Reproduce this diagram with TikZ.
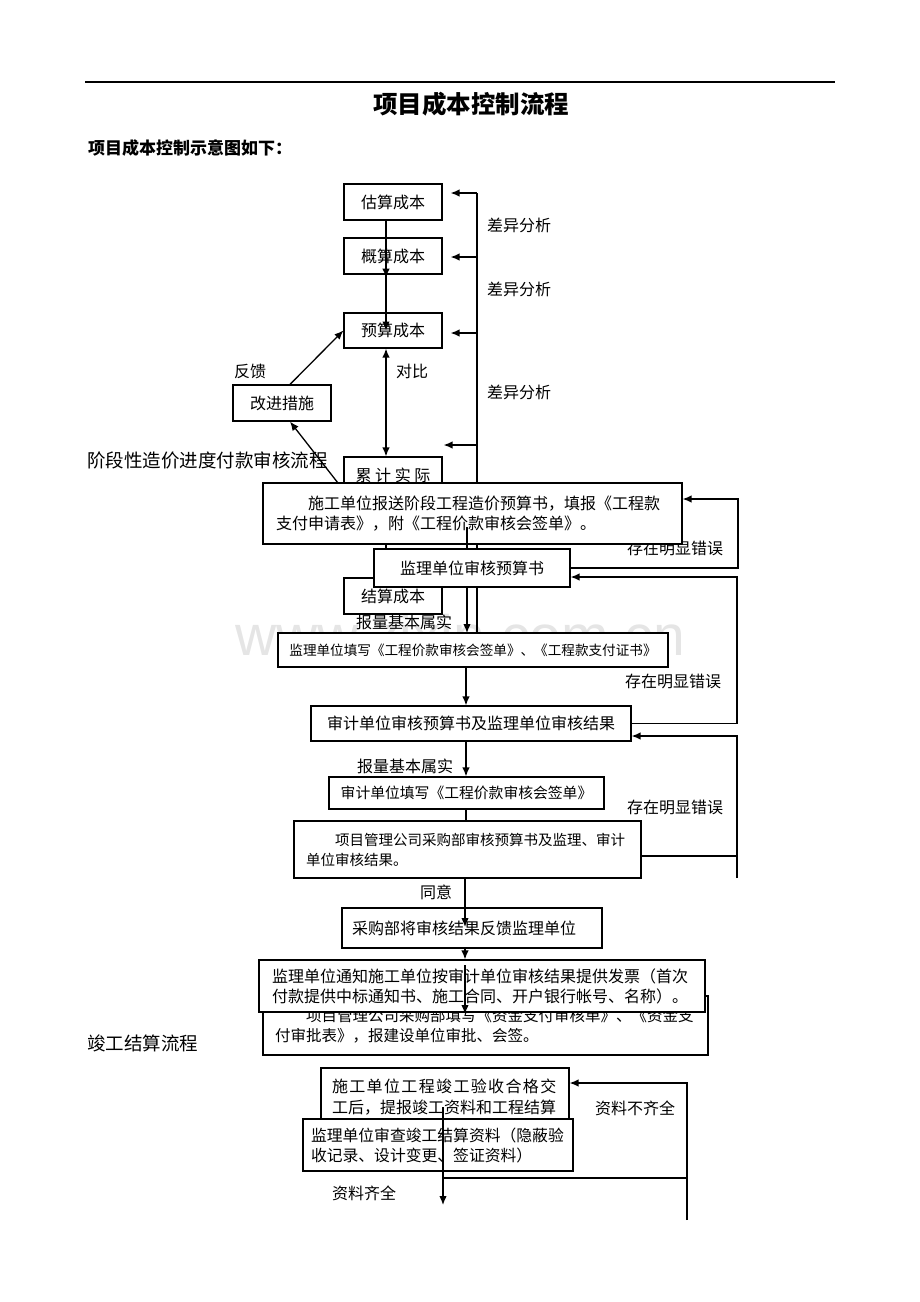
\documentclass[tikz,border=0pt]{standalone}
\usepackage{fontspec}
\setmainfont{Noto Sans CJK SC}
\newfontfamily\wmfont{Liberation Sans}
\usetikzlibrary{arrows.meta}

\begin{document}
\begin{tikzpicture}[x=1pt,y=-1pt,
	box/.style={draw, fill=white, line width=1.2pt, inner sep=0pt, font=\fontsize{16}{20}\selectfont},
	lbl/.style={inner sep=0pt, font=\fontsize{16}{20}\selectfont},
	ln/.style={line width=1.3pt},
	arr/.style={line width=1.3pt, -{Latex[length=9pt,width=7.5pt]}}]
	\useasboundingbox (0,0) rectangle (920,1302);

	\node[inner sep=0pt, text=black!10, font=\wmfont\fontsize{57}{60}\selectfont] (wm) at (460,635) {www.zixin.com.cn};

	\coordinate (hl) at (85,82);
	\coordinate (hr) at (835,82);
	\draw[line width=1.2pt] (hl) -- (hr);
	\node[inner sep=0pt, font=\fontsize{24.5}{28}\selectfont\bfseries] (title) at (471,104) {项目成本控制流程};
	\node[inner sep=0pt, anchor=west, font=\fontsize{17}{20}\selectfont\bfseries] (sub) at (88,148) {项目成本控制示意图如下：};
	\node[inner sep=0pt, anchor=west, font=\fontsize{18.5}{22}\selectfont] (part1) at (87,460) {阶段性造价进度付款审核流程};
	\node[inner sep=0pt, anchor=west, font=\fontsize{18.5}{22}\selectfont] (part2) at (87,1043) {竣工结算流程};

	% cost chain
	\node[box, minimum width=98pt, minimum height=36pt] (gusuan) at (393,202) {估算成本};
	\node[box, minimum width=98pt, minimum height=36pt] (gaisuan) at (393,256) {概算成本};
	\node[box, minimum width=98pt, minimum height=35pt] (yusuan) at (393,330.5) {预算成本};
	\node[box, minimum width=98pt, minimum height=36pt] (gaijin) at (282,403) {改进措施};
	\node[box, minimum width=98pt, minimum height=36pt] (leiji) at (393,475) {累 计 实 际};

	\coordinate (mx) at (386,0);
	\draw[arr, shorten >=-3pt] (mx |- gusuan.south) -- (mx |- gaisuan.south);
	\draw[arr] (mx |- gaisuan.south) -- (mx |- yusuan.center);
	\draw[ln, {Latex[length=9pt,width=7.5pt]}-{Latex[length=9pt,width=7.5pt]}] (mx |- yusuan.south) -- (mx |- leiji.north);
	\node[lbl] (duibi) at (412,371) {对比};
	\node[lbl] (fankui) at (250,371) {反馈};
	\draw[arr] ([xshift=8pt]gaijin.north) -- (yusuan.west);
	\coordinate (fb) at (338,483);
	\draw[arr] (fb) -- ([xshift=8pt]gaijin.south);

	\coordinate (b1) at (477,193);
	\coordinate (b2) at (477,257);
	\coordinate (b3) at (477,333);
	\coordinate (b4) at (477,445);
	\coordinate (bend) at (477,633);
	\draw[ln] (b1) -- (bend);
	\draw[arr, shorten >=8pt] (b1) -- (b1 -| gusuan.east);
	\draw[arr, shorten >=8pt] (b2) -- (b2 -| gaisuan.east);
	\draw[arr, shorten >=8pt] (b3) -- (b3 -| yusuan.east);
	\draw[arr, shorten >=1pt] (b4) -- (b4 -| leiji.east);
	\node[lbl] (cy1) at (519,225) {差异分析};
	\node[lbl] (cy2) at (519,289) {差异分析};
	\node[lbl] (cy3) at (519,392) {差异分析};

	\node[lbl] (sh1) at (404,622) {报量基本属实};
	\node[box, minimum width=98pt, minimum height=36pt] (jiesuan) at (393,596) {结算成本};
	\node[lbl] (cw1) at (675,548) {存在明显错误};

	% stage payment
	\node[box, minimum width=419pt, minimum height=61pt, text width=393pt, align=left] (sg1) at (472.5,513.5) {\hspace*{2em}施工单位报送阶段工程造价预算书，填报《工程款\\支付申请表》，附《工程价款审核会签单》。};
	\draw[ln] (mx |- sg1.south) -- (mx |- jiesuan.north);
	\coordinate (c0) at (467,527);
	\draw[ln] (c0) -- (c0 |- 0,549);
	\node[box, minimum width=196pt, minimum height=38pt] (jl1) at (472,568) {监理单位审核预算书};
	\draw[arr] (c0 |- jl1.south) -- (c0 |- bend);
	\node[box, minimum width=390pt, minimum height=34pt, font=\fontsize{13.6}{16}\selectfont] (jl2) at (473,650) {监理单位填写《工程价款审核会签单》、《工程款支付证书》};
	\node[box, minimum width=320pt, minimum height=35pt] (sj1) at (471,723.5) {审计单位审核预算书及监理单位审核结果};
	\node[box, minimum width=275pt, minimum height=32pt, font=\fontsize{14.8}{18}\selectfont] (sj2) at (466.5,793) {审计单位填写《工程价款审核会签单》};
	\node[box, minimum width=347pt, minimum height=57pt, text width=323pt, align=left, font=\fontsize{14.5}{20}\selectfont] (xm) at (467.5,849.5) {\hspace*{2em}项目管理公司采购部审核预算书及监理、审计\\单位审核结果。};
	\node[box, minimum width=260pt, minimum height=40pt, text width=240pt, align=left] (cg) at (472,928) {采购部将审核结果反馈监理单位};
	\node[box, minimum width=445pt, minimum height=59pt, text width=421pt, align=left, font=\fontsize{15.5}{20}\selectfont] (zj) at (485.5,1025.5) {\hspace*{2em}项目管理公司采购部填写《资金支付审核单》、《资金支\\付审批表》，报建设单位审批、会签。};
	\node[box, minimum width=446pt, minimum height=52pt, text width=420pt, align=left] (tz) at (482,986) {监理单位通知施工单位按审计单位审核结果提供发票（首次\\付款提供中标通知书、施工合同、开户银行帐号、名称）。};

	\coordinate (c1) at (466,0);
	\draw[arr] (c1 |- jl2.south) -- (c1 |- sj1.north);
	\draw[arr] (c1 |- sj1.south) -- (c1 |- sj2.north);
	\draw[ln] (c1 |- sj2.south) -- (c1 |- xm.north);
	\node[lbl] (sh2) at (405,766) {报量基本属实};
	\coordinate (c2) at (465,927);
	\draw[arr] (c2 |- xm.south) -- (c2);
	\draw[arr] (c2 |- cg.south) -- (c2 |- tz.north);
	\coordinate (c3) at (465,965);
	\coordinate (c4) at (465,1014);
	\draw[arr] (c3) -- (c4);
	\node[lbl] (ty) at (436,892) {同意};

	% error loops
	\coordinate (e1) at (738,499);
	\draw[arr] (jl1.east) -| (e1) -- (e1 -| sg1.east);
	\coordinate (e2) at (737,577);
	\draw[arr] (sj1.east) -| (e2) -- (e2 -| jl1.east);
	\coordinate (e3) at (737,736);
	\coordinate (e3b) at (737,878);
	\coordinate (x3) at (737,856);
	\draw[arr] (e3b) -- (e3) -- (e3 -| sj1.east);
	\draw[ln] (x3 -| xm.east) -- (x3);
	\node[lbl] (cw2) at (673,681) {存在明显错误};
	\node[lbl] (cw3) at (675,807) {存在明显错误};

	% completion settlement
	\node[box, minimum width=248pt, minimum height=59pt, text width=226pt, align=left, font=\fontsize{16}{21}\selectfont] (sg2) at (445,1097.5) {{\addfontfeature{LetterSpace=8.5}施工单位工程竣工验收合格交}\\工后，提报竣工资料和工程结算};
	\node[box, minimum width=270pt, minimum height=52pt, text width=254pt, align=left, font=\fontsize{15.8}{20}\selectfont] (jl3) at (438,1145) {监理单位审查竣工结算资料（隐蔽验\\收记录、设计变更、签证资料）};
	\coordinate (g1) at (443,1107);
	\coordinate (g2) at (443,1205);
	\draw[arr] (g1) -- (g2);
	\coordinate (f1) at (687,1083);
	\coordinate (f2) at (687,1220);
	\coordinate (m2) at (443,1178);
	\draw[arr] (f2) -- (f1) -- (f1 -| sg2.east);
	\draw[ln] (m2) -- (m2 -| f1);
	\node[lbl] (bq) at (635,1108) {资料不齐全};
	\node[lbl] (qq) at (364,1193) {资料齐全};
\end{tikzpicture}
\end{document}
